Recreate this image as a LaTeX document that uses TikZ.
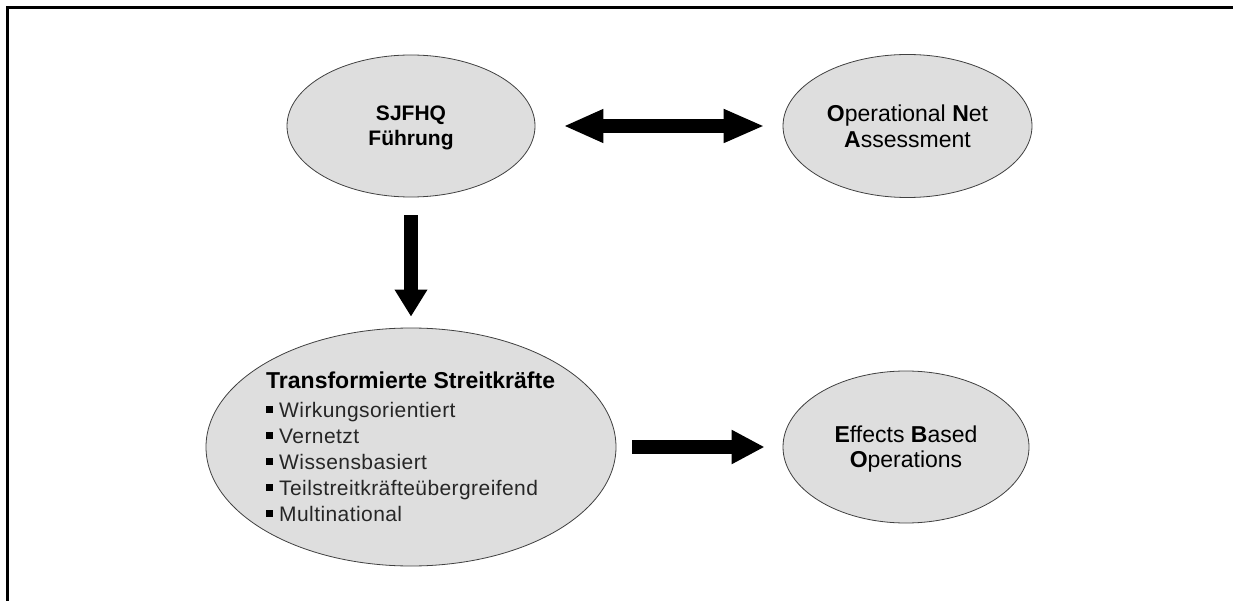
\documentclass[tikz,border=0pt]{standalone}
\usepackage{fontspec}
\setmainfont{Liberation Sans}
\newfontfamily\lsfont[LetterSpace=2]{Liberation Sans}
\usetikzlibrary{shapes.geometric,arrows.meta}
\newcommand\bulsq{\textcolor{black}{\rule[4.5pt]{6.5pt}{6.5pt}}\hspace{6.5pt}}
\begin{document}
\begin{tikzpicture}[x=1pt,y=-1pt,
  bubble/.style={ellipse, draw=black!75, line width=0.8pt, fill=black!13, inner sep=0pt,
                 align=center, text depth=0pt},
  blockarrow/.style={line width=14pt, black},
  bubbletext/.style={font=\fontsize{23}{26}\selectfont}
]
\useasboundingbox (0,0) rectangle (1233,601);
\draw[line width=2.4pt] (7.5,601) -- (7.5,7.5) -- (1233,7.5);

\node[bubble, minimum width=248pt, minimum height=142pt,
      font=\fontsize{21}{25}\selectfont\bfseries] (sj) at (411,126) {SJFHQ\\Führung};
\node[bubble, bubbletext, minimum width=249pt, minimum height=143pt] (ona) at (907.5,126)
      {\textbf{O}perational \textbf{N}et\\\textbf{A}ssessment};
\node[bubble, minimum width=410pt, minimum height=238pt] (ts) at (411,447) {};
\node[bubble, font=\fontsize{23}{25}\selectfont, minimum width=246pt, minimum height=152pt] (ebo) at (906,447)
      {\textbf{E}ffects \textbf{B}ased\\\textbf{O}perations};
\node[anchor=north west, inner sep=0pt, align=left, text=black!85,
      font=\lsfont\fontsize{21}{26}\selectfont] (tstext) at (266,371.2)
      {{\fontsize{23}{26}\selectfont\rmfamily\bfseries\textcolor{black}{Transformierte Streitkräfte}}\\[3pt]
       \bulsq Wirkungsorientiert\\
       \bulsq Vernetzt\\
       \bulsq Wissensbasiert\\
       \bulsq Teilstreitkräfteübergreifend\\
       \bulsq Multinational};

\draw[blockarrow, {Triangle[width=31pt,length=40pt]}-{Triangle[width=31pt,length=41pt]},
      shorten <=28pt, shorten >=18pt] (sj.east) -- (ona.west);
\draw[blockarrow, -{Triangle[width=31pt,length=27pt]},
      shorten <=18pt, shorten >=11pt] (sj.south) -- (ts.north);
\draw[blockarrow, -{Triangle[width=32pt,length=33pt]},
      shorten <=16pt, shorten >=18pt] (ts.east |- ebo.west) -- (ebo.west);
\end{tikzpicture}
\end{document}
